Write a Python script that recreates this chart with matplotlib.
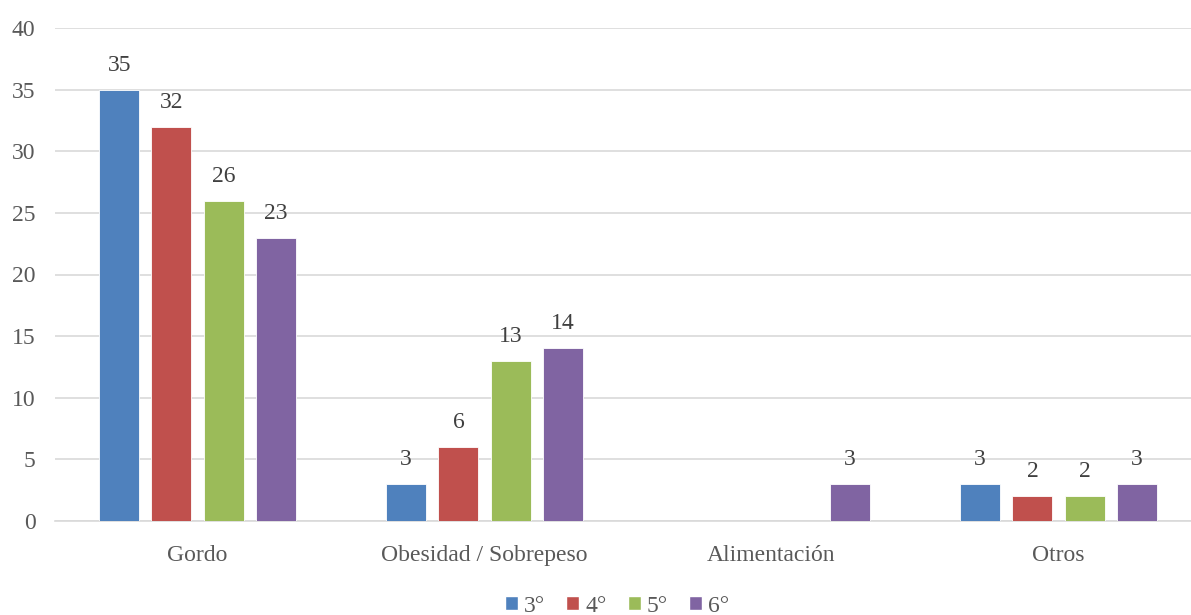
import numpy as np
import matplotlib
matplotlib.use("Agg")
import matplotlib.pyplot as plt
from matplotlib.patches import Patch

categories = ["Gordo", "Obesidad / Sobrepeso", "Alimentación", "Otros"]
series_names = ["3°", "4°", "5°", "6°"]
values_3 = [35, 3, np.nan, 3]
values_4 = [32, 6, np.nan, 2]
values_5 = [26, 13, np.nan, 2]
values_6 = [23, 14, 3, 3]
y_ticks = [0, 5, 10, 15, 20, 25, 30, 35, 40]

colors = ["#4F81BD", "#C0504D", "#9BBB59", "#8064A2"]
text_color = "#595959"
fs = 17

plt.rcParams["font.family"] = ["Liberation Serif", "DejaVu Serif"]

fig = plt.figure(figsize=(11.91, 6.15), dpi=100)
ax = fig.add_axes([55 / 1191, (615 - 521) / 615, 1 - 55 / 1191, (521 - 28) / 615])

x = np.arange(len(categories))
pitch = 0.182
width = 0.139
all_values = [values_3, values_4, values_5, values_6]
for i, (vals, col) in enumerate(zip(all_values, colors)):
    offs = (i - 1.5) * pitch
    vals = np.array(vals, dtype=float)
    ax.bar(x + offs, np.nan_to_num(vals), width, color=col,
           edgecolor="white", linewidth=0.6, zorder=3)
    for xi, v in zip(x + offs, vals):
        if not np.isnan(v):
            ax.annotate(f"{int(v)}", (xi, v), xytext=(0, 14), textcoords="offset pixels",
                        ha="center", va="bottom", fontsize=fs, color="#404040", zorder=4)

ax.set_ylim(0, 40)
ax.set_yticks(y_ticks)
ax.set_xlim((55 - 197.5) / 287, (1191 - 197.5) / 287)
ax.set_xticks(x)
ax.set_xticklabels(categories)
ax.yaxis.grid(True, color="#D9D9D9", linewidth=1.2, zorder=0)
ax.set_axisbelow(True)
for s in ["top", "right", "left"]:
    ax.spines[s].set_visible(False)
ax.spines["bottom"].set_color("#D9D9D9")
ax.spines["bottom"].set_linewidth(1.2)
ax.tick_params(axis="both", length=0, labelsize=fs, colors=text_color)
ax.tick_params(axis="y", pad=14)
ax.tick_params(axis="x", pad=17)

handles = [Patch(facecolor=c, edgecolor="white") for c in colors]
fig.legend(handles, series_names, loc="center", bbox_to_anchor=(617 / 1191, 1 - 606 / 615),
           ncol=4, frameon=False, fontsize=fs, labelcolor=text_color,
           handlelength=0.55, handleheight=0.55, handletextpad=0.25, columnspacing=0.9,
           borderpad=0.1)

fig.savefig("out.png", dpi=100)
